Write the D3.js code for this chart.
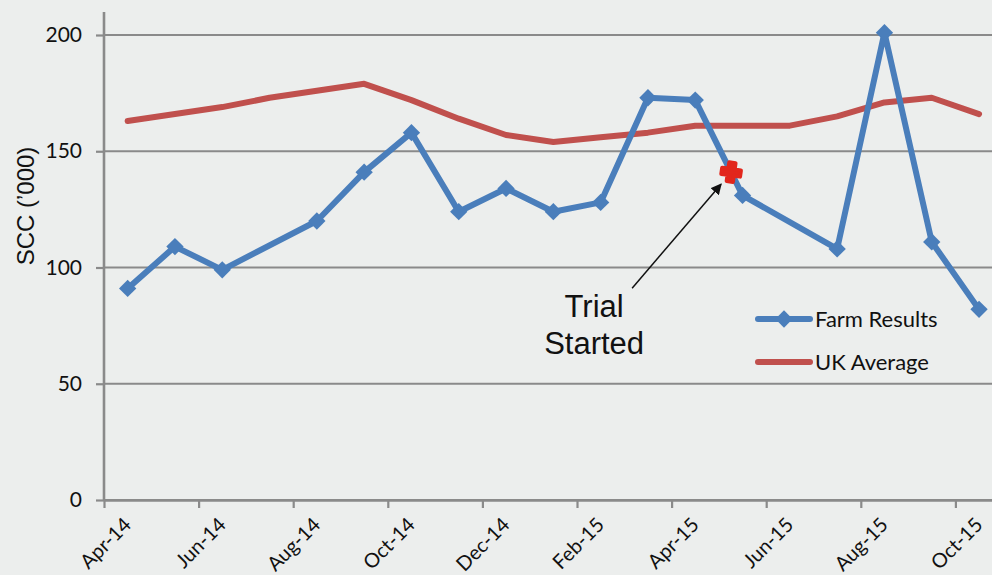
<!DOCTYPE html>
<html>
<head>
<meta charset="utf-8">
<script src="https://cdn.jsdelivr.net/npm/d3@7"></script>
<style>
    body { margin: 0; background: #eceeed; }
    svg { display: block; }
</style>
</head>
<body>
<svg class="chart"></svg>
<script>
// Months on the axis, one slot per month.
var months = ["Apr-14", "May-14", "Jun-14", "Jul-14", "Aug-14", "Sep-14", "Oct-14",
    "Nov-14", "Dec-14", "Jan-15", "Feb-15", "Mar-15", "Apr-15", "May-15", "Jun-15",
    "Jul-15", "Aug-15", "Sep-15", "Oct-15"];

// Tick labels, every second month.
var tickLabels = ["Apr-14", "Jun-14", "Aug-14", "Oct-14", "Dec-14", "Feb-15",
    "Apr-15", "Jun-15", "Aug-15", "Oct-15"];

var yTicks = [0, 50, 100, 150, 200];

// Farm results (no samples in Jul-14 and Jun-15).
var farmMonths = ["Apr-14", "May-14", "Jun-14", "Aug-14", "Sep-14", "Oct-14", "Nov-14",
    "Dec-14", "Jan-15", "Feb-15", "Mar-15", "Apr-15", "May-15", "Jul-15", "Aug-15",
    "Sep-15", "Oct-15"];
var farmValues = [91, 109, 99, 120, 141, 158, 124, 134, 124, 128, 173, 172, 131, 108,
    201, 111, 82];

// UK average, every month.
var ukValues = [163, 166, 169, 173, 176, 179, 172, 164, 157, 154, 156, 158, 161, 161,
    161, 165, 171, 173, 166];

// When the trial started.
var trialMonth = "May-15";
var trialDay = 9;
var trialValue = 141;

var width = 992,
    height = 575;

var svg = d3.select(".chart")
    .attr("width", width)
    .attr("height", height);

// Month index -> x, points sit in the middle of their month.
var x = d3.scaleLinear()
    .domain([0, 19])
    .range([104, 104 + 19 * 47.3]);

var y = d3.scaleLinear()
    .domain([0, 200])
    .range([500, 35]);

function monthX(m) {
    return x(months.indexOf(m) + 0.5);
}

var grey = "#8a8a8a";
var labelFont = "Lato, 'Open Sans', sans-serif";

// Gridlines.
svg.append("g")
    .selectAll("line")
    .data(yTicks)
    .enter()
    .append("line")
    .attr("x1", 104)
    .attr("x2", width)
    .attr("y1", function (d) { return y(d); })
    .attr("y2", function (d) { return y(d); })
    .attr("stroke", grey)
    .attr("stroke-width", 2.2);

// y axis.
var yAxis = svg.append("g")
    .attr("transform", "translate(104,0)")
    .call(d3.axisLeft(y).tickValues(yTicks).tickSize(8).tickPadding(14));
yAxis.select(".domain").remove();
yAxis.selectAll(".tick line").attr("stroke", grey).attr("stroke-width", 2.2);
yAxis.selectAll("text")
    .attr("fill", "#111")
    .style("font-family", labelFont)
    .style("font-size", "21px");

svg.append("line")
    .attr("x1", 104).attr("x2", 104)
    .attr("y1", 12).attr("y2", 500)
    .attr("stroke", grey)
    .attr("stroke-width", 2.6);

// x axis.
var xAxis = svg.append("g")
    .attr("transform", "translate(0,500)")
    .call(d3.axisBottom(x)
        .tickValues(tickLabels.map(function (t) { return months.indexOf(t); }))
        .tickFormat(function (d) { return months[d]; })
        .tickSize(8)
        .tickSizeOuter(0));
xAxis.select(".domain").attr("stroke", grey).attr("stroke-width", 2.6);
xAxis.selectAll(".tick line").attr("stroke", grey).attr("stroke-width", 2.2);
xAxis.selectAll("text")
    .attr("fill", "#111")
    .style("font-family", labelFont)
    .style("font-size", "20px")
    .style("text-anchor", "end")
    .attr("x", 0)
    .attr("y", 0)
    .attr("dy", "0")
    .attr("transform", "translate(28,26) rotate(-45)");

// y axis title.
svg.append("text")
    .attr("transform", "translate(34,206) rotate(-90)")
    .attr("text-anchor", "middle")
    .style("font-family", "'Liberation Sans', Arial, sans-serif")
    .style("font-size", "24px")
    .attr("fill", "#111")
    .text("SCC (\u2019000)");

// UK average line.
var ukLine = d3.line()
    .x(function (d, i) { return monthX(months[i]); })
    .y(function (d) { return y(d); });

svg.append("path")
    .datum(ukValues)
    .attr("d", ukLine)
    .attr("fill", "none")
    .attr("stroke", "#c0504d")
    .attr("stroke-width", 6)
    .attr("stroke-linecap", "round")
    .attr("stroke-linejoin", "round");

// Farm results line.
var farm = farmMonths.map(function (m, i) {
    return { month: m, value: farmValues[i] };
});

var farmLine = d3.line()
    .x(function (d) { return monthX(d.month); })
    .y(function (d) { return y(d.value); });

svg.append("path")
    .datum(farm)
    .attr("d", farmLine)
    .attr("fill", "none")
    .attr("stroke", "#4a7ebb")
    .attr("stroke-width", 6)
    .attr("stroke-linejoin", "round");

var diamond = d3.symbol().type(d3.symbolSquare).size(150);

svg.append("g")
    .selectAll("path")
    .data(farm)
    .enter()
    .append("path")
    .attr("d", diamond)
    .attr("fill", "#4a7ebb")
    .attr("transform", function (d) {
        return "translate(" + monthX(d.month) + "," + y(d.value) + ") rotate(45)";
    });

// Trial marker, placed by day inside its month.
var trialX = x(months.indexOf(trialMonth) + (trialDay - 1) / 31),
    trialY = y(trialValue);

svg.append("path")
    .attr("d", d3.symbol().type(d3.symbolCross).size(200))
    .attr("fill", "#e2261c")
    .attr("stroke", "#e2261c")
    .attr("stroke-width", 4)
    .attr("stroke-linejoin", "round")
    .attr("transform", "translate(" + trialX + "," + trialY + ") rotate(8)");

// Annotation arrow and text.
svg.append("defs").append("marker")
    .attr("id", "arrow")
    .attr("viewBox", "0 0 10 10")
    .attr("refX", 9)
    .attr("refY", 5)
    .attr("markerWidth", 11)
    .attr("markerHeight", 11)
    .attr("markerUnits", "userSpaceOnUse")
    .attr("orient", "auto")
    .append("path")
    .attr("d", "M0,0L10,5L0,10Z")
    .attr("fill", "#111");

svg.append("line")
    .attr("x1", trialX - 99)
    .attr("y1", trialY + 116)
    .attr("x2", trialX - 10)
    .attr("y2", trialY + 12)
    .attr("stroke", "#111")
    .attr("stroke-width", 1.5)
    .attr("marker-end", "url(#arrow)");

var note = svg.append("text")
    .attr("text-anchor", "middle")
    .style("font-family", "'Liberation Sans', Arial, sans-serif")
    .style("font-size", "31px")
    .attr("fill", "#111");
note.append("tspan").attr("x", trialX - 137).attr("y", trialY + 145).text("Trial");
note.append("tspan").attr("x", trialX - 137).attr("y", trialY + 182).text("Started");

// Legend.
var legend = svg.append("g").attr("transform", "translate(758,0)");

legend.append("line")
    .attr("x1", 0).attr("x2", 52)
    .attr("y1", 319).attr("y2", 319)
    .attr("stroke", "#4a7ebb")
    .attr("stroke-width", 6)
    .attr("stroke-linecap", "round");
legend.append("path")
    .attr("d", diamond)
    .attr("fill", "#4a7ebb")
    .attr("transform", "translate(26,319) rotate(45)");
legend.append("line")
    .attr("x1", 0).attr("x2", 52)
    .attr("y1", 362).attr("y2", 362)
    .attr("stroke", "#c0504d")
    .attr("stroke-width", 6)
    .attr("stroke-linecap", "round");

legend.selectAll("text")
    .data(["Farm Results", "UK Average"])
    .enter()
    .append("text")
    .attr("x", 57)
    .attr("y", function (d, i) { return 319 + i * 43; })
    .attr("dy", "0.35em")
    .style("font-family", labelFont)
    .style("font-size", "22px")
    .attr("fill", "#111")
    .text(function (d) { return d; });
</script>
</body>
</html>
